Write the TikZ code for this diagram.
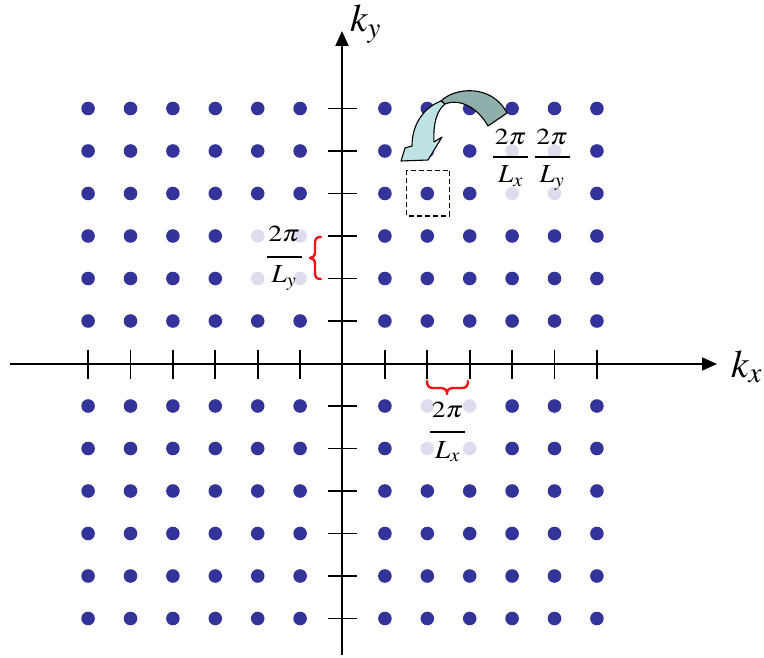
\documentclass[tikz,border=0pt]{standalone}
\usepackage{graphicx}
\usepackage{mathptmx}
\usetikzlibrary{arrows.meta}
\definecolor{dotblue}{RGB}{51,51,153}
\definecolor{dotfaint}{RGB}{221,221,238}
\definecolor{arrlight}{RGB}{189,227,229}
\definecolor{arrdark}{RGB}{143,175,173}
\definecolor{bracered}{RGB}{240,20,20}
\tikzset{
  axisline/.style={line width=2pt, -{Triangle[length=15pt,width=13pt]}},
  tickline/.style={line width=1.8pt},
  dot/.style={fill=dotblue},
  faint/.style={fill=dotfaint},
  bracepath/.style={draw=bracered, line width=2.4pt, line cap=round, line join=round},
  fracpart/.style={anchor=base, inner sep=0pt, font=\fontsize{23}{27}\selectfont},
  denpart/.style={anchor=base, inner sep=0pt, font=\fontsize{26}{30}\selectfont},
  fracbar/.style={line width=1.3pt},
  axlabel/.style={anchor=base west, inner sep=0pt, font=\fontsize{39}{45}\selectfont},
}
% #1 name, #2 x, #3 bar y, #4 numerator gap, #5 denominator
\newcommand{\fracat}[5]{%
  \node[fracpart] (#1n) at (#2,#3-#4) {\scalebox{1.2}[1]{$2\pi$}};
  \node[denpart] (#1d) at (#2,#3+26) {\scalebox{1.05}[1]{$#5$}};
  \coordinate (#1l) at (#2-17.5,#3);
  \coordinate (#1r) at (#2+17.5,#3);
  \draw[fracbar] (#1l) -- (#1r);
}
\begin{document}
\begin{tikzpicture}[x=1pt,y=-1pt]
\useasboundingbox (0,0) rectangle (764,658);
% dots
\foreach \c in {-6,...,-1,1,2,...,6}{
  \foreach \r in {-6,...,-1,1,2,...,6}{
    \pgfmathsetmacro{\px}{342.5+42.4*\c}
    \pgfmathsetmacro{\py}{363.5-42.5*\r}
    \def\st{dot}
    \ifnum\c=-2 \ifnum\r=3 \def\st{faint}\fi \ifnum\r=2 \def\st{faint}\fi \fi
    \ifnum\c=-1 \ifnum\r=3 \def\st{faint}\fi \ifnum\r=2 \def\st{faint}\fi \fi
    \ifnum\c=2 \ifnum\r=-1 \def\st{faint}\fi \ifnum\r=-2 \def\st{faint}\fi \fi
    \ifnum\c=3 \ifnum\r=-1 \def\st{faint}\fi \ifnum\r=-2 \def\st{faint}\fi \fi
    \ifnum\c=4 \ifnum\r=5 \def\st{faint}\fi \ifnum\r=4 \def\st{faint}\fi \fi
    \ifnum\c=5 \ifnum\r=5 \def\st{faint}\fi \ifnum\r=4 \def\st{faint}\fi \fi
    \fill[\st] (\px,\py) circle (6.8pt);
  }
}
% axes
\coordinate (xl) at (10,364);
\coordinate (xr) at (717,364);
\coordinate (yb) at (342,655);
\coordinate (yt) at (342,31);
\draw[axisline] (xl) -- (xr);
\draw[axisline] (yb) -- (yt);
% ticks
\foreach \c in {-6,...,-1,1,2,...,6}{
  \pgfmathsetmacro{\px}{342.5+42.4*\c}
  \draw[tickline] (\px,349.5) -- (\px,378.5);
}
\foreach \r in {-6,...,-1,1,2,...,6}{
  \pgfmathsetmacro{\py}{363.5-42.5*\r}
  \draw[tickline] (327.5,\py) -- (356.5,\py);
}
% axis labels
\node[axlabel] (kx) at (731,377) {$k_x$};
\node[axlabel] (ky) at (350,32) {$k_y$};
% dashed box
\draw[dashed, line width=1.2pt, dash pattern=on 5pt off 3pt] (406.5,170.5) rectangle (449.5,216);
% curved arrow: dark back part
\filldraw[fill=arrdark, draw=black, line width=1.1pt, line join=round]
  (441,101) .. controls (455,87) and (492,84) .. (507,113)
  -- (488,126) .. controls (478,108) and (460,98) .. (445,104) -- cycle;
% light front part with head
\filldraw[fill=arrlight, draw=black, line width=1.1pt, line join=round]
  (441,101) .. controls (423,108) and (412,125) .. (412,146)
  -- (405,148) -- (401,161) -- (428,160) -- (442,137) -- (434,142)
  .. controls (433,126) and (436,111) .. (445,104) -- cycle;
% braces
\draw[bracepath] (321,237) .. controls (316,237) and (315,239) .. (315,244) -- (315,252)
  .. controls (315,256) and (313,258) .. (310,258)
  .. controls (313,258) and (315,260) .. (315,264) -- (315,272)
  .. controls (315,277) and (316,279) .. (321,279);
\draw[bracepath] (427,381) .. controls (427,386) and (429,388) .. (433,388) -- (442,388)
  .. controls (445,388) and (447,390) .. (447,394)
  .. controls (447,390) and (449,388) .. (452,388) -- (462,388)
  .. controls (466,388) and (468,386) .. (468,381);
% fractions
\fracat{fl}{284}{257}{15}{L_y}
\fracat{fb}{447.5}{432}{15}{L_x}
\fracat{ftx}{510.5}{157}{12.5}{L_x}
\fracat{fty}{552}{157}{12.5}{L_y}
\end{tikzpicture}
\end{document}
